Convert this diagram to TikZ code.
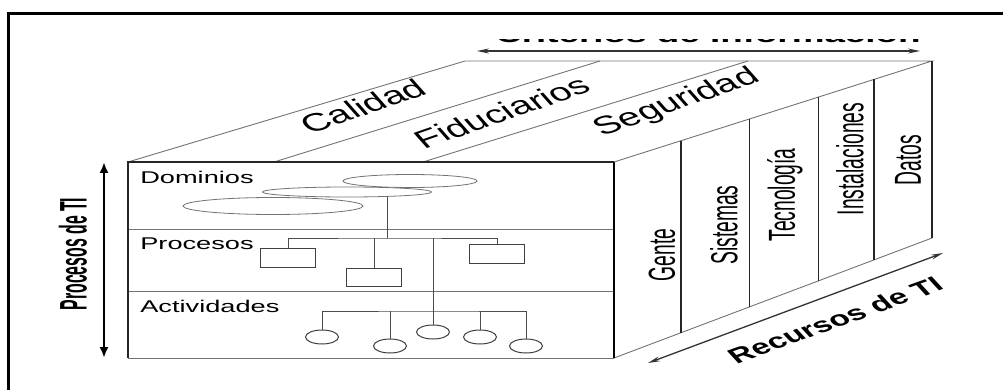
\documentclass[tikz,border=0pt]{standalone}
\usepackage{fontspec}
\setmainfont{Liberation Sans}
\usetikzlibrary{arrows.meta, calc, shapes.geometric}

\begin{document}
\begin{tikzpicture}[x=1pt, y=-1pt,
    >=Latex,
    face/.style={line width=0.9pt, black!55},
    ridge/.style={line width=1.3pt, black!85},
    org/.style={line width=1pt, black!70},
    dom/.style={ellipse, draw=black!55, fill=white, line width=0.8pt, inner sep=0pt},
    proc/.style={rectangle, draw=black!75, line width=1pt, minimum width=55pt, minimum height=19pt, inner sep=0pt},
    act/.style={ellipse, draw=black!75, fill=white, line width=1pt, minimum width=33pt, minimum height=14pt, inner sep=0pt},
    lvl/.style={font=\fontsize{17}{17}\selectfont, anchor=base west, inner sep=0pt, xscale=1.6},
    crit/.style={font=\fontsize{25}{25}\selectfont, inner sep=0pt, xscale=1.6, rotate=29},
    res/.style={font=\fontsize{23.5}{23.5}\selectfont, inner sep=0pt, xscale=1.6, rotate=90, xscale=0.82},
    axis/.style={{Stealth[length=12pt,width=5pt]}-{Stealth[length=12pt,width=5pt]}, line width=1.3pt, black!80}
  ]
  \useasboundingbox (0,0) rectangle (1003,390);
  \clip (0,0) rectangle (1003,390);
  % outer frame
  \draw[line width=3pt] (8,14) rectangle (1020,410);

  % corners of the cube
  \coordinate (flt) at (128,162);
  \coordinate (frt) at (614,162);
  \coordinate (flb) at (128,358);
  \coordinate (frb) at (614,358);
  \coordinate (blt) at (465,61);
  \coordinate (brt) at (932,61);
  \coordinate (brb) at (932,238);

  % top face: criterios
  \draw[face] (flt) -- (blt) -- (brt) -- (frt);
  \foreach \a/\b in {274/600, 423/748}
    \draw[face] (\a,162) -- (\b,61);
  \node[crit] (cal) at (363,106) {Calidad};
  \node[crit] (fid) at (502,112) {Fiduciarios};
  \node[crit] (seg) at (677,103) {Seguridad};

  % right face: recursos
  \draw[face] (frb) -- (brb);
  \draw[ridge] (brb) -- (brt);
  \foreach \t in {0.211, 0.425, 0.642, 0.818}
    \draw[ridge] ($(frt)!\t!(brt)$) -- ($(frb)!\t!(brb)$);
  \node[res] (gen) at (662,255) {Gente};
  \node[res] (sis) at (724,225) {Sistemas};
  \node[res] (tec) at (785,195) {Tecnología};
  \node[res] (ins) at (850,159) {Instalaciones};
  \node[res] (dat) at (908,160) {Datos};

  % front face: procesos
  \draw[face] (flb) -- (frb);
  \draw[face] (128,229) -- (614,229);
  \draw[face] (128,291) -- (614,291);
  \draw[ridge] (flb) -- (flt) -- (frt);
  \draw[line width=2.6pt] (frt) -- (frb);
  \node[lvl] (ldom) at (140,183) {Dominios};
  \node[lvl] (lpro) at (140,249) {Procesos};
  \node[lvl] (lact) at (140,312) {Actividades};

  % dominios
  \node[dom, minimum width=134pt, minimum height=13pt] (d1) at (410,181) {};
  \node[dom, minimum width=169pt, minimum height=10pt] (d2) at (347,192) {};
  \node[dom, minimum width=180pt, minimum height=17pt] (d3) at (273,206) {};

  % procesos
  \coordinate (pj) at (387,238);
  \node[proc] (p1) at (288,257.5) {};
  \node[proc, minimum height=18pt] (p2) at (374,277) {};
  \node[proc] (p3) at (497,253.5) {};
  \draw[org] (pj |- d2.south) -- (pj);
  \draw[org] (p1.north) |- (pj) -| (p3.north);
  \draw[org] (p2.north) -- (p2.north |- pj);

  % actividades
  \coordinate (aj) at (433,311);
  \node[act] (a1) at (322,337) {};
  \node[act] (a2) at (390,346) {};
  \node[act] (a3) at (433,332) {};
  \node[act] (a4) at (480,337) {};
  \node[act] (a5) at (526,346) {};
  \draw[org] (a1.north) |- (aj) -| (a5.north);
  \draw[org] (a2.north) -- (a2.north |- aj);
  \draw[org] (a4.north) -- (a4.north |- aj);
  \draw[org] (a3.north) -- (a3.north |- pj);

  % procesos de TI
  \coordinate (ptop) at (104,162);
  \coordinate (pbot) at (104,358);
  \draw[{Latex[length=11pt,width=9pt]}-{Latex[length=11pt,width=9pt]}, line width=2.2pt] (ptop) -- (pbot);
  \node[font=\bfseries\fontsize{24}{24}\selectfont, inner sep=0pt, xscale=1.6, rotate=90, xscale=0.66] (pti) at (73,254) {Procesos de TI};

  % recursos de TI
  \coordinate (rlo) at (648,363);
  \coordinate (rhi) at (943,253);
  \draw[axis] (rlo) -- (rhi);
  \node[font=\bfseries\fontsize{21}{21}\selectfont, inner sep=0pt, xscale=1.6, rotate=30] (rti) at (835,320) {Recursos de TI};

  % criterios de informacion (cut off at the top)
  \coordinate (cle) at (477,51);
  \coordinate (cri) at (920,51);
  \draw[axis] (cle) -- (cri);
  \begin{scope}
    \clip (470,40) rectangle (940,44);
    \node[font=\bfseries\fontsize{23}{23}\selectfont, anchor=base, inner sep=0pt, xscale=1.6] (cti) at (708,43) {Criterios de Información};
  \end{scope}
\end{tikzpicture}
\end{document}
